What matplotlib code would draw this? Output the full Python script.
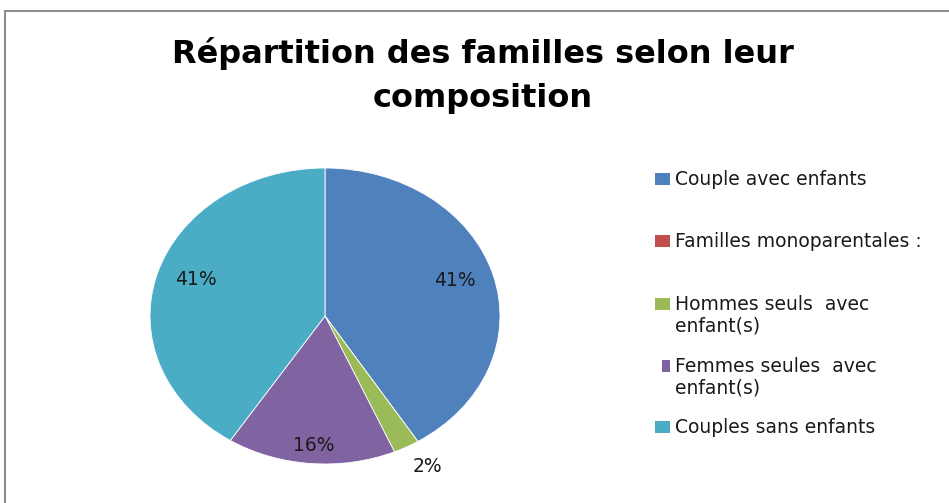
import numpy as np
import matplotlib.pyplot as plt
from matplotlib.patches import Rectangle

title_lines = ["Répartition des familles selon leur", "composition"]
categories = ["Couple avec enfants", "Familles monoparentales :",
              "Hommes seuls  avec\nenfant(s)", "Femmes seules  avec\nenfant(s)",
              "Couples sans enfants"]
values = [41.1, 0.0, 2.4, 15.6, 40.9]
colors = ["#4F81BD", "#C0504D", "#9BBB59", "#8064A2", "#4BACC6"]

# legend baselines (figure pixels from top)
legend_y = [185, 247, 310, 372, 433]
line_px = 22
FONT = "DejaVu Sans"

W, H = 949, 503
fig = plt.figure(figsize=(W / 100, H / 100), dpi=100)

# chart frame (runs off right and bottom edges)
fig.patches.append(Rectangle((5 / W, -0.1), 1.2, (H - 11) / H + 0.1,
                             transform=fig.transFigure, fill=False,
                             edgecolor="#8c8c8c", linewidth=1.5))

for j, line in enumerate(title_lines):
    fig.text(483 / W, 1 - (63 + 44 * j) / H, line, ha="center", va="baseline",
             fontsize=23, fontweight="bold", family=FONT, color="#000000")

# pie axes: ellipse centre (325, 316), radii 175 x 148 px
cx, cy, rx, ry = 325, 316, 175, 148
ax = fig.add_axes([(cx - 1.25 * rx) / W, (H - cy - 1.25 * ry) / H,
                   2.5 * rx / W, 2.5 * ry / H])


def fmt(p):
    return "" if p < 0.5 else f"{p:.0f}%"


wedges, texts, autotexts = ax.pie(values, colors=colors, startangle=90,
                                  counterclock=False, autopct=fmt,
                                  wedgeprops=dict(edgecolor="white", linewidth=0.6),
                                  textprops=dict(fontsize=13.5, family=FONT,
                                                 color="#1a1a1a"))
ax.set_aspect("auto")
ax.set_xlim(-1.25, 1.25)
ax.set_ylim(-1.25, 1.25)

# Excel-style label placement; small slices get the label outside
for w, t, v in zip(wedges, autotexts, values):
    mid = np.deg2rad((w.theta1 + w.theta2) / 2)
    c, s = np.cos(mid), np.sin(mid)
    if v < 5:
        t.set_position((1.08 * c, 1.08 * s))
        t.set_ha("left" if c > 0 else "right")
        t.set_va("top" if s < 0 else "bottom")
    else:
        t.set_position((0.77 * c, 0.88 * s))
    t.set_clip_on(False)

# legend
for i, (lab, col) in enumerate(zip(categories, colors)):
    y = legend_y[i]
    left, sw = (662, 8) if i == 3 else (655, 15)
    fig.patches.append(Rectangle((left / W, (H - y) / H), sw / W, 12 / H,
                                 transform=fig.transFigure, facecolor=col,
                                 edgecolor="none"))
    for j, part in enumerate(lab.split("\n")):
        fig.text(675 / W, 1 - (y + line_px * j) / H, part, ha="left", va="baseline",
                 fontsize=13.5, family=FONT, color="#1a1a1a")

fig.savefig("out.png", dpi=100)
